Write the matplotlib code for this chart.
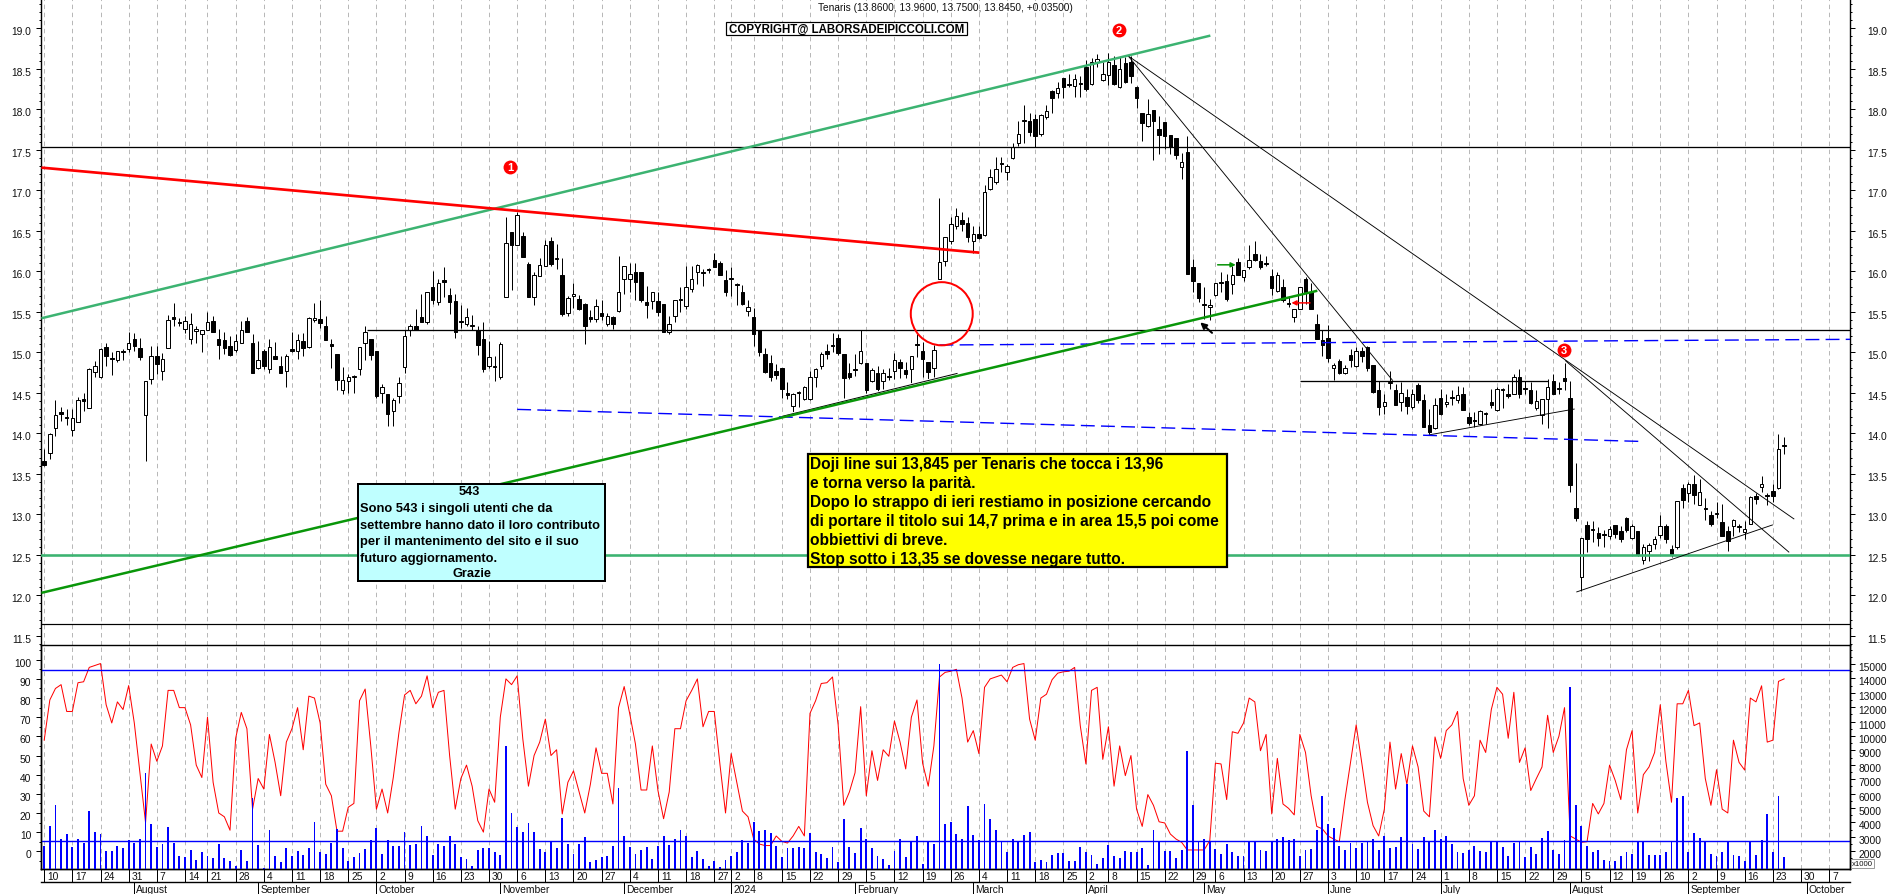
import matplotlib
matplotlib.use("Agg")
import matplotlib.pyplot as plt
from matplotlib.patches import Ellipse, Rectangle
from matplotlib.ticker import MultipleLocator, FormatStrFormatter
from matplotlib.transforms import ScaledTranslation
import numpy as np
import pandas as pd

plt.rcParams['font.family'] = ['Liberation Sans', 'DejaVu Sans']
plt.rcParams['lines.scale_dashes'] = False

opens = [13.66,13.76,14.07,14.26,14.20,14.04,14.14,14.42,14.31,14.76,
14.70,15.06,14.93,14.90,15.01,15.04,15.16,15.05,14.23,14.67,
14.95,14.77,15.05,15.43,15.37,15.29,15.16,15.26,15.22,15.27,
15.39,15.16,15.15,15.08,15.03,15.12,15.39,15.12,14.81,15.01,
14.79,14.96,14.83,14.77,15.04,15.02,15.14,15.07,15.40,15.41,
15.33,15.10,14.98,14.53,14.65,14.69,14.79,15.12,15.17,15.01,
14.50,14.48,14.28,14.46,14.82,15.27,15.32,15.43,15.38,15.81,
15.62,15.89,15.71,15.63,15.38,15.35,15.32,15.27,15.16,14.83,
14.82,14.69,15.68,16.49,16.32,16.43,16.09,15.68,15.94,16.07,
16.38,16.15,15.96,15.49,15.69,15.66,15.60,15.43,15.41,15.49,
15.35,15.43,15.51,15.91,15.91,15.99,15.99,15.62,15.63,15.63,
15.60,15.25,15.45,15.66,15.57,15.78,15.99,15.99,16.03,16.14,
16.10,15.89,15.90,15.84,15.75,15.51,15.43,15.27,14.98,14.87,
14.77,14.81,14.50,14.34,14.50,14.42,14.42,14.70,14.83,15.01,
15.09,15.18,14.98,14.75,14.79,14.87,14.87,14.65,14.74,14.65,
14.71,14.77,14.88,14.78,14.79,15.10,15.02,14.88,14.81,15.90,
16.13,16.38,16.56,16.63,16.60,16.37,16.46,16.45,17.01,17.10,
17.34,17.22,17.40,17.59,17.85,17.86,17.88,17.70,17.91,18.23,
18.20,18.39,18.31,18.29,18.32,18.52,18.31,18.59,18.36,18.42,
18.55,18.27,18.57,18.59,18.28,17.95,17.79,17.99,17.76,17.84,
17.68,17.64,17.29,17.47,16.05,15.86,15.60,15.56,15.71,15.87,
15.88,15.84,16.12,15.93,16.05,16.21,16.13,16.10,15.94,15.76,
15.80,15.61,15.43,15.53,15.91,15.74,15.35,15.15,15.18,14.81,
14.89,14.75,14.97,14.83,15.01,15.07,14.84,14.53,14.34,14.62,
14.53,14.39,14.45,14.32,14.60,14.41,14.10,14.06,14.43,14.36,
14.44,14.41,14.48,14.20,14.16,14.11,14.24,14.39,14.29,14.54,
14.49,14.48,14.70,14.56,14.53,14.31,14.22,14.42,14.64,14.56,
14.68,14.43,13.08,12.23,12.87,12.81,12.77,12.75,12.73,12.87,
12.79,12.95,12.71,12.79,12.44,12.55,12.63,12.75,12.85,12.57,
12.59,13.32,13.26,13.37,13.12,13.08,12.99,13.00,12.90,12.79,
12.86,12.84,12.78,12.88,13.23,13.34,13.23,13.29,13.32,13.86]

highs = [13.80,14.00,14.41,14.32,14.30,14.30,14.45,14.50,14.80,14.89,
15.05,15.11,15.00,15.02,15.04,15.25,15.24,15.18,14.65,15.08,
15.08,14.99,15.46,15.61,15.42,15.45,15.48,15.33,15.27,15.50,
15.45,15.29,15.25,15.20,15.22,15.39,15.43,15.22,15.14,15.04,
15.16,15.13,14.96,14.98,15.25,15.22,15.24,15.43,15.61,15.64,
15.45,15.17,14.98,14.82,14.73,14.72,15.07,15.32,15.17,15.01,
14.61,14.48,14.44,14.70,15.27,15.35,15.54,15.72,15.75,16.00,
15.90,16.05,15.79,15.72,15.58,15.55,15.46,15.33,15.37,15.14,
14.96,15.13,16.67,16.49,16.73,16.48,16.11,15.99,16.17,16.39,
16.42,16.34,16.17,15.69,15.86,15.71,15.61,15.52,15.66,15.64,
15.48,15.45,16.19,16.07,16.10,16.10,15.99,15.82,15.74,15.74,
15.60,15.45,15.64,15.80,16.07,16.07,16.09,16.03,16.04,16.23,
16.13,16.02,16.05,15.85,15.83,15.64,15.55,15.27,15.05,14.97,
14.85,14.81,14.63,14.50,14.52,14.59,14.77,14.81,15.00,15.10,
15.24,15.22,14.98,14.87,14.98,15.27,14.87,14.80,14.83,14.79,
14.80,14.99,14.92,14.88,14.96,15.22,15.13,14.88,15.09,16.91,
16.42,16.67,16.78,16.73,16.67,16.56,16.56,17.07,17.26,17.41,
17.41,17.33,17.58,17.86,18.05,17.96,17.94,17.94,18.05,18.24,
18.34,18.39,18.44,18.44,18.41,18.61,18.63,18.68,18.58,18.70,
18.66,18.64,18.64,18.66,18.29,17.96,18.13,17.99,17.92,17.84,
17.68,17.64,17.46,17.67,16.15,15.86,15.80,15.66,15.86,15.99,
15.97,16.07,16.17,16.01,16.32,16.38,16.21,16.19,16.03,15.99,
15.91,15.70,15.53,15.80,15.93,15.86,15.47,15.27,15.34,14.87,
14.92,14.84,15.04,15.06,15.06,15.08,14.84,14.65,14.48,14.77,
14.61,14.63,14.55,14.55,14.62,14.48,14.30,14.44,14.55,14.48,
14.53,14.59,14.57,14.26,14.26,14.29,14.26,14.55,14.57,14.56,
14.61,14.73,14.79,14.64,14.63,14.53,14.42,14.67,14.73,14.63,
14.87,14.64,13.63,12.71,12.92,12.92,12.84,12.80,12.86,12.87,
12.86,12.97,12.88,12.79,12.63,12.65,12.73,12.99,12.88,12.62,
13.16,13.38,13.40,13.49,13.43,13.20,13.04,13.15,13.13,12.86,
12.94,12.88,12.92,13.23,13.26,13.47,13.26,13.37,13.99,13.96]

lows = [13.60,13.68,13.97,14.15,14.10,13.97,14.14,14.27,14.31,14.70,
14.68,14.83,14.72,14.88,14.90,15.00,15.02,14.90,13.66,14.61,
14.73,14.66,15.05,15.32,15.32,15.24,15.10,15.12,15.00,15.27,
15.25,14.92,14.98,14.96,15.00,15.12,15.25,14.75,14.79,14.79,
14.74,14.92,14.75,14.57,15.00,14.92,14.96,15.05,15.38,15.30,
15.15,14.80,14.54,14.48,14.50,14.50,14.72,14.90,14.90,14.44,
14.38,14.09,14.09,14.38,14.75,15.20,15.27,15.37,15.35,15.60,
15.58,15.68,15.47,15.18,15.30,15.32,15.27,14.97,14.76,14.80,
14.64,14.67,15.68,15.77,16.32,16.18,15.68,15.59,15.94,16.07,
16.07,16.03,15.45,15.45,15.55,15.52,15.10,15.38,15.38,15.40,
15.33,15.29,15.50,15.72,15.74,15.64,15.62,15.42,15.53,15.45,
15.25,15.23,15.38,15.50,15.54,15.74,15.84,15.82,15.98,16.05,
15.95,15.70,15.70,15.58,15.58,15.45,15.08,14.96,14.75,14.65,
14.67,14.43,14.42,14.24,14.33,14.41,14.41,14.57,14.79,14.92,
15.00,14.97,14.44,14.67,14.71,14.85,14.50,14.63,14.51,14.55,
14.66,14.67,14.68,14.68,14.61,14.94,14.69,14.67,14.67,15.90,
16.07,16.34,16.52,16.50,16.36,16.23,16.40,16.43,17.00,17.08,
17.22,17.13,17.39,17.55,17.59,17.67,17.53,17.67,17.88,17.96,
18.14,18.14,18.27,18.15,18.15,18.23,18.30,18.52,18.35,18.30,
18.30,18.26,18.33,18.33,18.02,17.61,17.78,17.37,17.45,17.51,
17.45,17.39,17.14,15.97,15.74,15.62,15.41,15.40,15.70,15.74,
15.63,15.72,15.95,15.88,16.03,16.13,16.03,16.07,15.71,15.75,
15.62,15.56,15.38,15.53,15.60,15.53,15.16,14.96,14.88,14.66,
14.73,14.73,14.82,14.82,14.88,14.77,14.50,14.23,14.24,14.55,
14.35,14.28,14.24,14.30,14.38,14.08,13.99,14.05,14.22,14.33,
14.35,14.38,14.29,14.10,14.08,14.10,14.11,14.31,14.28,14.31,
14.44,14.48,14.43,14.48,14.36,14.29,14.11,14.07,14.48,14.48,
14.53,13.28,12.92,12.05,12.54,12.66,12.61,12.59,12.69,12.71,
12.66,12.78,12.69,12.49,12.39,12.42,12.57,12.71,12.65,12.47,
12.57,13.08,13.15,13.13,13.11,12.93,12.85,12.96,12.73,12.55,
12.73,12.78,12.69,12.88,13.13,13.27,13.11,13.15,13.31,13.75]

closes = [13.61,13.99,14.23,14.24,14.19,14.19,14.41,14.40,14.79,14.83,
15.04,14.95,14.92,15.01,15.00,15.12,15.08,14.94,14.64,14.96,
14.85,14.92,15.40,15.41,15.36,15.39,15.35,15.29,15.27,15.37,
15.25,15.09,15.05,14.97,15.14,15.28,15.25,14.75,14.90,14.83,
15.07,14.92,14.75,14.96,15.02,15.15,15.05,15.42,15.42,15.36,
15.15,15.08,14.66,14.66,14.70,14.71,15.07,15.25,14.97,14.46,
14.57,14.24,14.41,14.62,15.20,15.33,15.27,15.37,15.75,15.65,
15.86,15.87,15.62,15.25,15.37,15.43,15.33,15.09,14.79,14.94,
14.83,15.10,16.35,16.32,16.69,16.18,15.68,15.96,16.08,16.32,
16.09,16.15,15.47,15.67,15.72,15.53,15.32,15.41,15.57,15.45,
15.45,15.35,15.74,16.07,15.97,15.87,15.64,15.58,15.74,15.50,
15.25,15.35,15.64,15.65,15.80,15.91,16.08,15.98,16.02,16.05,
15.95,15.75,15.90,15.83,15.60,15.56,15.22,15.00,14.76,14.69,
14.72,14.55,14.47,14.48,14.51,14.57,14.70,14.79,14.98,14.98,
15.08,14.99,14.68,14.70,14.78,15.01,14.53,14.78,14.55,14.74,
14.70,14.91,14.81,14.73,14.96,15.09,14.92,14.76,15.03,16.11,
16.42,16.58,16.68,16.59,16.42,16.46,16.41,16.98,17.17,17.26,
17.33,17.30,17.53,17.69,17.86,17.72,17.67,17.93,17.98,18.14,
18.26,18.28,18.30,18.38,18.31,18.25,18.59,18.62,18.43,18.58,
18.31,18.50,18.34,18.41,18.14,17.83,17.94,17.86,17.68,17.67,
17.53,17.44,17.35,15.97,15.88,15.67,15.59,15.58,15.86,15.86,
15.66,15.95,15.95,16.01,16.14,16.14,16.05,16.09,15.79,15.96,
15.64,15.60,15.53,15.80,15.74,15.53,15.16,15.09,14.93,14.84,
14.74,14.81,14.91,15.02,14.95,14.80,14.51,14.32,14.39,14.63,
14.35,14.50,14.34,14.49,14.41,14.08,14.01,14.35,14.24,14.39,
14.43,14.47,14.29,14.13,14.15,14.28,14.25,14.35,14.55,14.55,
14.46,14.70,14.48,14.55,14.38,14.40,14.42,14.57,14.49,14.55,
14.64,13.36,12.95,12.71,12.69,12.82,12.71,12.74,12.82,12.76,
12.69,12.80,12.85,12.50,12.60,12.62,12.69,12.85,12.69,12.51,
13.16,13.18,13.37,13.24,13.27,13.07,12.88,13.01,12.73,12.67,
12.93,12.85,12.82,13.21,13.19,13.38,13.22,13.23,13.80,13.845]

oscillator = [58,79,85,87,73,73,88,88.5,96,97,
98,76.5,67,78,74,86.5,67,41,15,56,
47,55,84,84,75,75,66,45,38.5,70,
36,20,18,11,59,72.5,64,22,38,32.5,
61,46.5,29,57,64,75,53,81,80,67,
35,29,10.5,10.5,23,25,78.6,84.7,55,22,
32.5,20,38.6,62,81.6,84,77,81,91.6,75,
83,84,50,22,38,45,34,16,10,32.5,
25.6,70,90,87,91.6,58.6,34,50,57,69,
50,53,19.5,36,42,31,20,35,54,40.7,
40.7,24.7,75,86,71.6,
56,32,32,55,31.7,17,31,64,64,78.6,
84,90,65,73,73,45.6,20,51,36,21,
18,6.4,3.8,3,3,8,5.2,4.3,8,13,
8,72,78.6,87.6,88,91,66,24,31,41,
75.5,29,52.5,37,53,49.6,68,57,43,70,
79,46,34,55,91,93.4,94,95,80,57,
63,51,85.6,90,91,92,88.5,96,97.4,98,
69,58,80,82,89.6,93,93.7,94,96,65.6,
45.6,84,85.6,48,65,34,55,39.5,50,22,
13,29.6,24,15.4,14.8,9,6.4,4.7,0.7,0.7,
0.7,0.7,5.6,46,45.6,27,62.4,61.6,67,80,78,
52.5,61,19.5,48.5,24.7,22.4,19,61,51.6,29,
13,11.7,8,6.4,5,27,46.4,66,46,25.6,
13.4,8,22,57,32.5,51,35,55,44,21,
18,59.7,48.5,63,66,73,38,24,29,58,
51.6,74,85.6,82,59,83,46.4,54,31.7,38,
44,71,51.6,60,75,8,6.4,4.7,5,25,
19.5,25,45,37,27,53,63,20,40,44,
51.6,76.5,47,25.6,77,77,84,65.6,67,38,
24,42.6,22,20,58,46.4,42.4,80,78,86.4,
57,58,88.7,90]

volumes = [2390,3740,5220,2860,3200,2280,2860,2580,4800,3320,
3200,2020,2020,2350,2230,2760,2580,2860,7420,3900,
2320,2490,3670,2580,1650,1580,2090,1400,1930,1680,
1510,2490,1510,1310,960,2070,1330,5680,2440,840,
3460,1680,1240,2210,1680,2020,1720,2210,4010,1930,
1810,2580,3550,2230,1310,1580,1860,2160,2790,3600,
1840,2760,2370,2390,3370,2440,2510,3740,3040,1750,
2510,2390,3090,2490,1580,1470,1000,2120,2230,2210,
1930,1750,9290,4660,3710,3370,3970,3370,2140,1930,
2690,2230,4340,2510,1840,2510,3000,1240,1380,1580,
1680,2390,6400,3040,2280,
1810,2120,2280,1470,2390,3090,2460,2860,3460,3040,
1580,2020,1470,1000,1310,940,1400,1700,1930,2790,
2580,4060,3390,3460,3270,2390,1580,2210,2210,2280,
2210,3270,1930,1840,1510,2300,1280,4250,2280,1860,
3620,2830,2210,1650,1470,1050,2020,2830,1580,2690,
3040,1100,2690,2510,15010,3880,4010,3180,2860,5130,
3160,2810,5290,4220,3460,2690,1930,2830,2670,3160,
3340,1280,1380,1240,1750,1860,1860,1310,1330,2300,
1930,1750,1120,1510,2420,1700,1540,2020,1930,1950,
2230,1050,3460,2630,2020,2020,1510,2120,8970,5220,
2690,2830,2630,2160,1840,2530,1980,1680,1700,2630,2690,
2090,2020,2630,2860,3000,2760,2860,1650,2120,2160,
3460,5840,3900,3620,2370,2070,2580,2210,2580,2670,
2860,2090,3040,2210,2300,3000,6680,2510,2140,3000,
2670,3460,2860,3040,2510,1930,1880,2120,2370,2020,
1930,2630,2720,2300,1650,2580,2690,1610,2300,1790,
2930,3410,2070,1790,2790,13410,5220,3780,2370,1930,
2120,1380,1330,1330,1680,1930,1790,2690,2690,1750,
1750,1750,1930,2690,5730,5840,1930,3250,2930,2690,
1810,1700,1930,2690,1750,1680,1330,2690,1750,2790,
4590,1980,5840,1610]

holidays = ["2023-08-15", "2023-12-25", "2023-12-26", "2024-01-01",
            "2024-03-29", "2024-04-01", "2024-05-01", "2024-08-15"]
price_hlines = [(17.53, "black", 1.3), (11.65, "black", 1.2)]
support_level = 12.5
oscillator_bands = [94.8, 5.2]

# (x0, y0, x1, y1) hand-drawn analysis lines, x in trading-day index
thin_black = [(192.5, 18.66, 310.8, 12.94), (192.5, 18.66, 239.5, 14.65),
              (270.1, 14.90, 309.9, 12.53), (245.9, 13.98, 271.8, 14.30),
              (272.1, 12.04, 307.0, 12.87)]
thick_black = [(57.3, 15.27, 320.7, 15.27), (223.0, 14.65, 267.0, 14.65)]
white_black = (131.1, 14.21, 162.2, 14.74)
blue_dashed = [(84.0, 14.295, 283.3, 13.90), (159.0, 15.09, 320.7, 15.16)]
top_green = (-0.5, 15.42, 207.1, 18.91)
low_green = (-0.5, 12.03, 226.1, 15.76)
red_line = (-0.5, 17.28, 166.1, 16.23)
number_marks = [("1", 82.7, 17.29), ("2", 190.9, 18.98), ("3", 269.9, 15.03)]

W, H = 1890, 895
LEFT, RIGHT, SPLIT, BOTTOM = 41.4, 1850.0, 645.6, 870.0
fx = lambda x: x / W
fy = lambda y: 1 - y / H
px = 0.72

fig = plt.figure(figsize=(W / 100, H / 100), dpi=100, facecolor="white")
ax = fig.add_axes([fx(LEFT), fy(SPLIT), fx(RIGHT - LEFT), (SPLIT) / H])
low = fig.add_axes([fx(LEFT), fy(BOTTOM), fx(RIGHT - LEFT), (BOTTOM - SPLIT) / H], sharex=ax)
vol = low.twinx()
mon = fig.add_axes([fx(LEFT), 0, fx(RIGHT - LEFT), (H - 883) / H])
low.patch.set_visible(False)

XL = (-0.497, 320.7)
ax.set_xlim(*XL)
mon.set_xlim(*XL)
ax.set_ylim(11.391, 19.362)
low.set_ylim(-9.24, 107.9)
vol.set_ylim(770, 16350)

# calendar
days = pd.bdate_range("2023-07-10", "2024-10-11").difference(pd.to_datetime(holidays))
frame = pd.DataFrame({"d": days, "i": np.arange(len(days))})
frame["wk"] = frame.d.dt.to_period("W")
frame["mo"] = frame.d.dt.to_period("M")
weeks = frame.groupby("wk").first()
months = frame.groupby("mo").first().iloc[1:]
week_idx = weeks.i.tolist()
week_lab = [str(d.day) for d in weeks.d]
mon_idx = months.i.tolist()
mon_lab = ["2024" if d.month == 1 else d.strftime("%B") for d in months.d]

grid_kw = dict(color="#b8b8b8", lw=0.72, ls=(0, (3.2, 2.6)))
low.set_xticks(week_idx)
for a in (ax, low):
    a.grid(axis="x", **grid_kw)
    a.set_axisbelow(True)
ax.tick_params(axis="x", length=0, labelbottom=False)

# candles
xs = np.arange(len(closes))
o, h, l, c = map(np.array, (opens, highs, lows, closes))
ax.vlines(xs, l, h, color="black", lw=1 * px, zorder=3)
up = c >= o
body_h = np.where(np.abs(c - o) < 0.012, 0.012, np.abs(c - o))
ax.bar(xs[up], body_h[up], bottom=np.minimum(o, c)[up], width=0.62, facecolor="white",
       edgecolor="black", linewidth=1 * px, zorder=3.1)
ax.bar(xs[~up], body_h[~up], bottom=np.minimum(o, c)[~up], width=0.62, facecolor="black",
       edgecolor="black", linewidth=1 * px, zorder=3.1)

def seg(a, s, **kw):
    a.plot([s[0], s[2]], [s[1], s[3]], solid_capstyle="butt", **kw)

for y, col, w in price_hlines:
    ax.plot(XL, [y, y], color=col, lw=w * px, zorder=4)
ax.plot(XL, [support_level] * 2, color="#3cb371", lw=2.6 * px, zorder=4)
for s in thick_black:
    seg(ax, s, color="black", lw=1.3 * px, zorder=4)
for s in thin_black:
    seg(ax, s, color="black", lw=0.9 * px, zorder=4)
seg(ax, white_black, color="white", lw=3 * px, zorder=4)
seg(ax, white_black, color="black", lw=1 * px, zorder=4.1)
for s in blue_dashed:
    ax.plot([s[0], s[2]], [s[1], s[3]], color="#0000ff", lw=1.4 * px,
            ls=(0, (10, 4.5)), zorder=4)
seg(ax, top_green, color="#3cb371", lw=2.5 * px, zorder=4.2)
seg(ax, low_green, color="#099609", lw=2.5 * px, zorder=4.3)
seg(ax, red_line, color="#ff0000", lw=2.7 * px, zorder=4.2)
ax.add_patch(Ellipse((159.4, 15.476), 11.0, 0.78, fill=False, edgecolor="#ff0000",
                     lw=2 * px, zorder=4.4))
for txt, x, y in number_marks:
    ax.plot([x], [y], "o", color="#ff0000", ms=10, mec="none", zorder=6)
    ax.text(x, y - 0.005, txt, color="white", fontsize=8, fontweight="bold",
            ha="center", va="center", zorder=7)
ax.annotate("", xy=(205.3, 15.37), xytext=(207.4, 15.24),
            arrowprops=dict(arrowstyle="-|>", color="black", lw=2 * px, mutation_scale=9, shrinkA=0, shrinkB=0), zorder=6)
ax.annotate("", xy=(211.6, 16.08), xytext=(208.4, 16.08),
            arrowprops=dict(arrowstyle="-|>", color="#009000", lw=1.5 * px, mutation_scale=7, shrinkA=0, shrinkB=0), zorder=6)
ax.annotate("", xy=(221.5, 15.61), xytext=(224.8, 15.61),
            arrowprops=dict(arrowstyle="-|>", color="#ff0000", lw=1.5 * px, mutation_scale=7, shrinkA=0, shrinkB=0), zorder=6)

# lower panel
low.plot(xs, oscillator, color="#ff0000", lw=1 * px, zorder=3)
vol.bar(xs, volumes, width=0.33, color="#0000ff", zorder=3)
for b in oscillator_bands:
    low.plot(XL, [b, b], color="#0000ff", lw=1.4 * px, zorder=5)

# axes cosmetics
FS = 7.4
col_txt = "#111111"
for a in (ax, low, vol):
    for s in a.spines.values():
        s.set_linewidth(1.4 * px)
    a.spines["top"].set_visible(False)
ax.set_yticks(np.arange(11.5, 19.01, 0.5))
ax.yaxis.set_minor_locator(MultipleLocator(0.1))
ax.yaxis.set_major_formatter(FormatStrFormatter("%.1f"))
ax.tick_params(axis="y", which="major", left=True, right=True, labelleft=True, labelright=True,
               length=5 * px, width=1 * px, pad=3.6, labelsize=FS, labelcolor=col_txt)
ax.tick_params(axis="y", which="minor", left=True, right=True, length=2.4 * px, width=1 * px)
low.set_yticks(np.arange(0, 101, 10))
low.yaxis.set_minor_locator(MultipleLocator(5))
low.tick_params(axis="y", which="major", length=5 * px, width=1 * px, pad=3.6, labelsize=FS, labelcolor=col_txt)
low.tick_params(axis="y", which="minor", length=2.4 * px, width=1 * px)
vol.set_yticks(np.arange(2000, 15001, 1000))
vol.yaxis.set_minor_locator(MultipleLocator(500))
vol.tick_params(axis="y", which="major", length=5 * px, width=1 * px, pad=2.6, labelsize=FS, labelcolor=col_txt)
vol.tick_params(axis="y", which="minor", length=2.4 * px, width=1 * px)

low.set_xticklabels(week_lab, ha="left")
low.tick_params(axis="x", length=13 * px, width=1 * px, pad=-7.6, labelsize=FS, labelcolor=col_txt)
mon.set_xticks(mon_idx)
mon.set_xticklabels(mon_lab, ha="left")
mon.set_yticks([])
mon.patch.set_visible(False)
for k, s in mon.spines.items():
    s.set_visible(k == "top")
    s.set_linewidth(1.4 * px)
mon.tick_params(axis="x", direction="in", length=12 * px, width=1 * px, pad=-7, labelsize=FS, labelcolor=col_txt)

def shift(labels, dx, dy):
    tr = ScaledTranslation(dx * px / 72, dy * px / 72, fig.dpi_scale_trans)
    for t in labels:
        t.set_transform(t.get_transform() + tr)

shift(low.get_xticklabels(), 3, 0)
shift(mon.get_xticklabels(), 2, 0)
for a in (ax, low, vol):
    ticks = a.yaxis.get_major_ticks()
    shift([t.label1 for t in ticks] + [t.label2 for t in ticks], 0, -2)
shift([t.label2 for t in ax.yaxis.get_major_ticks()], 7.5, 0)

# annotation boxes and texts
fig.text(fx(945), fy(8), "Tenaris (13.8600, 13.9600, 13.7500, 13.8450, +0.03500)", fontsize=7.25,
         ha="center", va="center", color=col_txt)

def box(x0, y0, x1, y1, fc, lw):
    fig.add_artist(Rectangle((fx(x0), fy(y1)), (x1 - x0) / W, (y1 - y0) / H, transform=fig.transFigure,
                             facecolor=fc, edgecolor="black", linewidth=lw * px, zorder=8))

box(726.4, 22.7, 967.5, 36, "white", 1.2)
fig.text(fx(847), fy(29.5), "COPYRIGHT@ LABORSADEIPICCOLI.COM", fontsize=8.3, fontweight="bold",
         ha="center", va="center", zorder=9)

box(808, 455, 1227.4, 568.3, "#ffff00", 2.2)
yellow_lines = ["Doji line sui 13,845 per Tenaris che tocca i 13,96", "e torna verso la parità.",
                "Dopo lo strappo di ieri restiamo in posizione cercando",
                "di portare il titolo sui 14,7 prima e in area 15,5 poi come",
                "obbiettivi di breve.", "Stop sotto i 13,35 se dovesse negare tutto."]
for n, t in enumerate(yellow_lines):
    fig.text(fx(810.5), fy(464.5 + n * 19), t, fontsize=11.2, fontweight="bold", ha="left", va="center", zorder=9)

box(357.6, 485, 604.7, 582.3, "#bfffff", 2)
fig.text(fx(469), fy(492), "543", fontsize=9.2, fontweight="bold", ha="center", va="center", zorder=9)
cyan_lines = ["Sono 543 i singoli utenti che da", "settembre hanno dato il loro contributo",
              "per il mantenimento del sito e il suo", "futuro aggiornamento."]
for n, t in enumerate(cyan_lines):
    fig.text(fx(360), fy(509.3 + n * 16.5), t, fontsize=9.3, fontweight="bold", ha="left", va="center", zorder=9)
fig.text(fx(472), fy(574.3), "Grazie", fontsize=9.2, fontweight="bold", ha="center", va="center", zorder=9)

fig.add_artist(Rectangle((fx(1851.5), fy(869)), 22.5 / W, 9.5 / H, transform=fig.transFigure,
                         facecolor="white", edgecolor="#999999", linewidth=0.7, zorder=8))
fig.text(fx(1862.7), fy(864.4), "x1000", fontsize=5.6, ha="center", va="center", color=col_txt, zorder=9)

fig.savefig("out.png", dpi=100)
